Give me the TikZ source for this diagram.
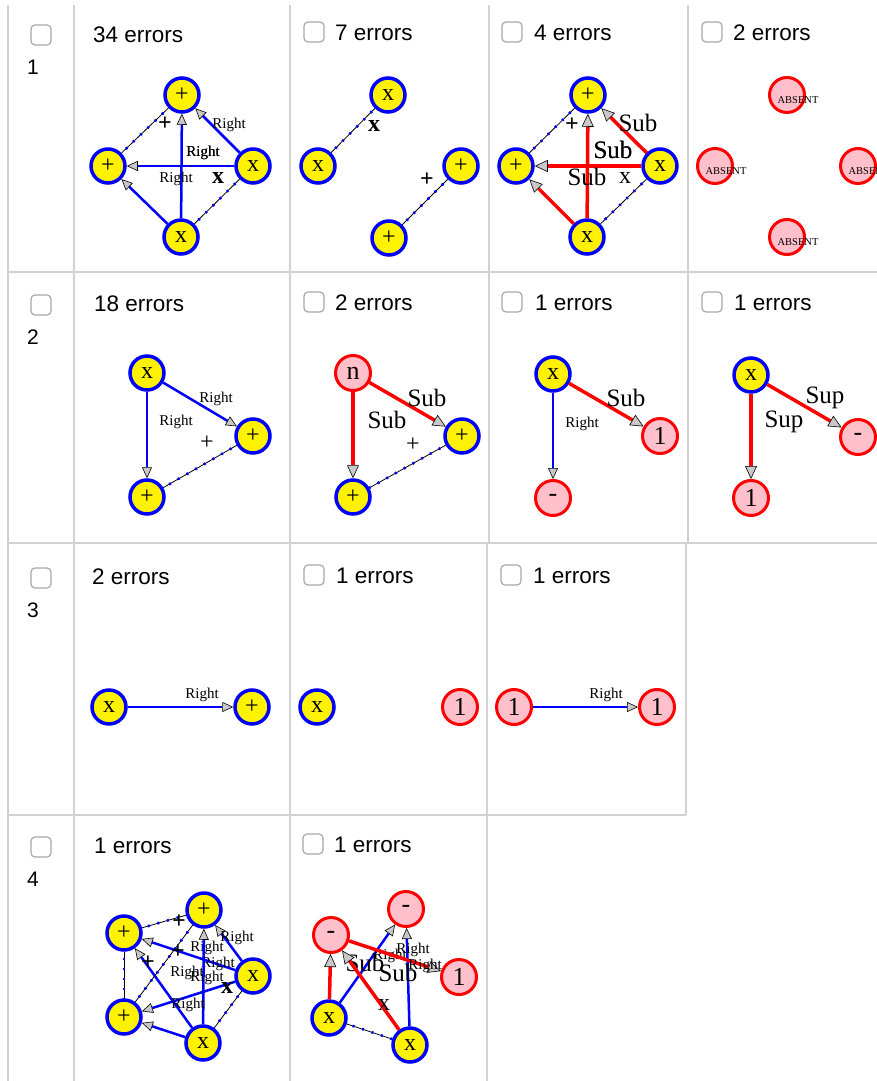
\documentclass[tikz,border=0pt]{standalone}
\usepackage{fontspec}
\setmainfont{Liberation Serif}
\setsansfont{Liberation Sans}
\usetikzlibrary{arrows.meta}

\definecolor{gridgray}{HTML}{D2D2D2}
\definecolor{boxgray}{HTML}{A8A8A8}
\definecolor{nodepink}{HTML}{FFC0CB}
\definecolor{tipgray}{HTML}{C8C8C8}

\tikzset{
	gridline/.style={draw=gridgray, line width=2pt},
	chkbox/.style={draw=boxgray, fill=white, rounded corners=4pt, minimum size=20pt, inner sep=0pt, line width=1.2pt},
	head/.style={font=\sffamily\fontsize{22.5}{26}\selectfont, anchor=west, inner sep=0pt},
	rownum/.style={font=\sffamily\fontsize{21}{25}\selectfont, inner sep=0pt},
	term/.style={circle, draw=blue, fill=yellow, line width=3.5pt, minimum size=34pt, inner sep=0pt, font=\fontsize{24}{24}\selectfont},
	wrong/.style={circle, draw=red, fill=nodepink, line width=3pt, minimum size=35pt, inner sep=0pt, font=\fontsize{26}{26}\selectfont},
	absentlbl/.style={font=\fontsize{10.5}{11}\selectfont, inner sep=0pt},
	rightedge/.style={draw=blue, line width=2.5pt, -{Triangle[length=11pt, width=10pt, color=black, fill=tipgray, line width=0.6pt]}},
	subedge/.style={draw=red, line width=3.5pt, -{Triangle[length=13pt, width=12pt, color=black, fill=tipgray, line width=0.6pt]}},
	dashlink/.style={draw=black, line width=0.8pt, postaction={draw=blue, line width=2.6pt, dash pattern=on 2pt off 8pt, dash phase=4pt}},
	lab/.style={font=\fontsize{15}{15}\selectfont, inner sep=0pt},
	biglab/.style={font=\fontsize{25}{25}\selectfont, inner sep=0pt},
	dlab/.style={font=\fontsize{24}{24}\selectfont, inner sep=0pt}
}

\begin{document}
\begin{tikzpicture}[x=1pt, y=-1pt]
	\useasboundingbox (0,0) rectangle (877,1081);
	\clip (0,0) rectangle (877,1081);

	% table
	\draw[gridline] (8,5) -- (8,1081);
	\draw[gridline] (74,5) -- (74,1081);
	\draw[gridline] (290,5) -- (290,1081);
	\draw[gridline] (489,5) -- (489,543);
	\draw[gridline] (487,543) -- (487,1081);
	\draw[gridline] (688,5) -- (688,543);
	\draw[gridline] (686,543) -- (686,815);
	\draw[gridline] (8,272) -- (877,272);
	\draw[gridline] (8,543) -- (877,543);
	\draw[gridline] (8,815) -- (686,815);

	% row labels
	\node[chkbox] (k1) at (41,35) {};
	\node[rownum] (n1) at (33,67) {1};
	\node[chkbox] (k2) at (41,305) {};
	\node[rownum] (n2) at (33,337) {2};
	\node[chkbox] (k3) at (41,578) {};
	\node[rownum] (n3) at (33,610) {3};
	\node[chkbox] (k4) at (41,847) {};
	\node[rownum] (n4) at (33,879) {4};

	% headers
	\node[head] (h11) at (93,35) {34 errors};
	\node[chkbox] (c12) at (314,32) {};
	\node[head] (h12) at (335,33) {7 errors};
	\node[chkbox] (c13) at (512,32) {};
	\node[head] (h13) at (534,33) {4 errors};
	\node[chkbox] (c14) at (712,32) {};
	\node[head] (h14) at (733,33) {2 errors};

	\node[head] (h21) at (94,304) {18 errors};
	\node[chkbox] (c22) at (314,302) {};
	\node[head] (h22) at (335,303) {2 errors};
	\node[chkbox] (c23) at (512,302) {};
	\node[head] (h23) at (535,303) {1 errors};
	\node[chkbox] (c24) at (712,302) {};
	\node[head] (h24) at (734,303) {1 errors};

	\node[head] (h31) at (92,577) {2 errors};
	\node[chkbox] (c32) at (314,575) {};
	\node[head] (h32) at (336,576) {1 errors};
	\node[chkbox] (c33) at (511,575) {};
	\node[head] (h33) at (533,576) {1 errors};

	\node[head] (h41) at (94,846) {1 errors};
	\node[chkbox] (c42) at (313,844) {};
	\node[head] (h42) at (334,845) {1 errors};

	% row 1
	\node[term] (t11) at (182,95) {+};
	\node[term] (l11) at (108,166) {+};
	\node[term] (r11) at (253,166) {x};
	\node[term] (b11) at (181,237) {x};
	\draw[rightedge] (b11) -- (t11) node[lab] at (203,153) {Right};
	\draw[rightedge] (r11) -- (l11) node[lab] at (203,153) {Right};
	\draw[rightedge] (r11) -- (t11) node[lab] at (229,125) {Right};
	\draw[rightedge] (b11) -- (l11) node[lab] at (176,179) {Right};
	\draw[dashlink] (l11) -- (t11) node[dlab] at (165,124) {\bfseries +};
	\draw[dashlink] (r11) -- (b11) node[dlab] at (218,178) {\bfseries x};

	\node[term] (t12) at (388,95) {x};
	\node[term] (l12) at (318,166) {x};
	\node[term] (r12) at (461,166) {+};
	\node[term] (b12) at (389,238) {+};
	\draw[dashlink] (l12) -- (t12) node[dlab] at (374,126) {\bfseries x};
	\draw[dashlink] (b12) -- (r12) node[dlab] at (427,180) {\bfseries +};

	\node[term] (t13) at (588,95) {+};
	\node[term] (l13) at (516,166) {+};
	\node[term] (r13) at (660,166) {x};
	\node[term] (b13) at (587,237) {x};
	\draw[subedge] (b13) -- (t13) node[biglab] at (613,150) {Sub};
	\draw[subedge] (r13) -- (l13) node[biglab] at (613,150) {Sub};
	\draw[subedge] (r13) -- (t13) node[biglab] at (638,123) {Sub};
	\draw[subedge] (b13) -- (l13) node[biglab] at (587,177) {Sub};
	\draw[dashlink] (l13) -- (t13) node[dlab] at (572,125) {\bfseries +};
	\draw[dashlink] (r13) -- (b13) node[dlab] at (625,178) {x};

	\node[wrong, label={[absentlbl, xshift=11pt, yshift=-5pt]center:ABSENT}] (t14) at (787,95) {};
	\node[wrong, label={[absentlbl, xshift=11pt, yshift=-5pt]center:ABSENT}] (l14) at (715,166) {};
	\node[wrong, label={[absentlbl, xshift=11pt, yshift=-5pt]center:ABSENT}] (r14) at (858,166) {};
	\node[wrong, label={[absentlbl, xshift=11pt, yshift=-5pt]center:ABSENT}] (b14) at (787,237) {};

	% row 2
	\node[term] (t21) at (147,373) {x};
	\node[term] (r21) at (253,436) {+};
	\node[term] (b21) at (147,497) {+};
	\draw[rightedge] (t21) -- (r21) node[lab] at (216,399) {Right};
	\draw[rightedge] (t21) -- (b21) node[lab] at (176,422) {Right};
	\draw[dashlink] (r21) -- (b21) node[dlab] at (207,443) {+};

	\node[wrong] (t22) at (353,373) {n};
	\node[term] (r22) at (462,436) {+};
	\node[term] (b22) at (353,497) {+};
	\draw[subedge] (t22) -- (r22) node[biglab] at (427,398) {Sub};
	\draw[subedge] (t22) -- (b22) node[biglab] at (387,420) {Sub};
	\draw[dashlink] (r22) -- (b22) node[dlab] at (413,445) {+};

	\node[term] (t23) at (553,374) {x};
	\node[wrong] (r23) at (660,436) {1};
	\node[wrong] (b23) at (553,498) {-};
	\draw[subedge] (t23) -- (r23) node[biglab] at (626,398) {Sub};
	\draw[rightedge] (t23) -- (b23) node[lab] at (582,424) {Right};

	\node[term] (t24) at (751,375) {x};
	\node[wrong] (r24) at (858,437) {-};
	\node[wrong] (b24) at (751,498) {1};
	\draw[subedge] (t24) -- (r24) node[biglab] at (825,398) {Sup};
	\draw[subedge] (t24) -- (b24) node[biglab] at (784,422) {Sup};

	% row 3
	\node[term] (a31) at (109,707) {x};
	\node[term] (b31) at (252,707) {+};
	\draw[rightedge] (a31) -- (b31) node[lab] at (202,695) {Right};

	\node[term] (a32) at (317,707) {x};
	\node[wrong] (b32) at (460,707) {1};

	\node[wrong] (a33) at (514,707) {1};
	\node[wrong] (b33) at (657,707) {1};
	\draw[rightedge] (a33) -- (b33) node[lab] at (606,695) {Right};

	% row 4
	\node[term] (t41) at (204,910) {+};
	\node[term] (u41) at (124,933) {+};
	\node[term] (r41) at (253,976) {x};
	\node[term] (l41) at (124,1017) {+};
	\node[term] (b41) at (203,1043) {x};
	\draw[rightedge] (r41) -- (t41) node[lab] at (237,938) {Right};
	\draw[rightedge] (r41) -- (u41) node[lab] at (207,948) {Right};
	\draw[rightedge] (r41) -- (l41) node[lab] at (218,964) {Right};
	\draw[rightedge] (b41) -- (u41) node[lab] at (187,973) {Right};
	\draw[rightedge] (b41) -- (t41) node[lab] at (207,978) {Right};
	\draw[rightedge] (b41) -- (l41) node[lab] at (188,1005) {Right};
	\draw[dashlink] (u41) -- (t41) node[dlab] at (179,922) {\bfseries +};
	\draw[dashlink] (l41) -- (t41) node[dlab] at (178,952) {\bfseries +};
	\draw[dashlink] (u41) -- (l41) node[dlab] at (148,963) {\bfseries +};
	\draw[dashlink] (r41) -- (b41) node[dlab] at (227,988) {\bfseries x};

	\node[wrong] (t42) at (406,909) {-};
	\node[wrong] (u42) at (331,935) {-};
	\node[wrong] (r42) at (459,977) {1};
	\node[term] (l42) at (329,1018) {x};
	\node[term] (b42) at (410,1045) {x};
	\draw[rightedge] (l42) -- (t42) node[lab] at (390,956) {Right};
	\draw[rightedge] (b42) -- (t42) node[lab] at (413,950) {Right};
	\draw[subedge] (u42) -- (r42) node[lab] at (425,966) {Right};
	\draw[subedge] (l42) -- (u42) node[biglab] at (365,963) {Sub};
	\draw[subedge] (b42) -- (u42) node[biglab] at (398,973) {Sub};
	\draw[dashlink] (l42) -- (b42) node[dlab] at (384,1005) {x};
\end{tikzpicture}
\end{document}
